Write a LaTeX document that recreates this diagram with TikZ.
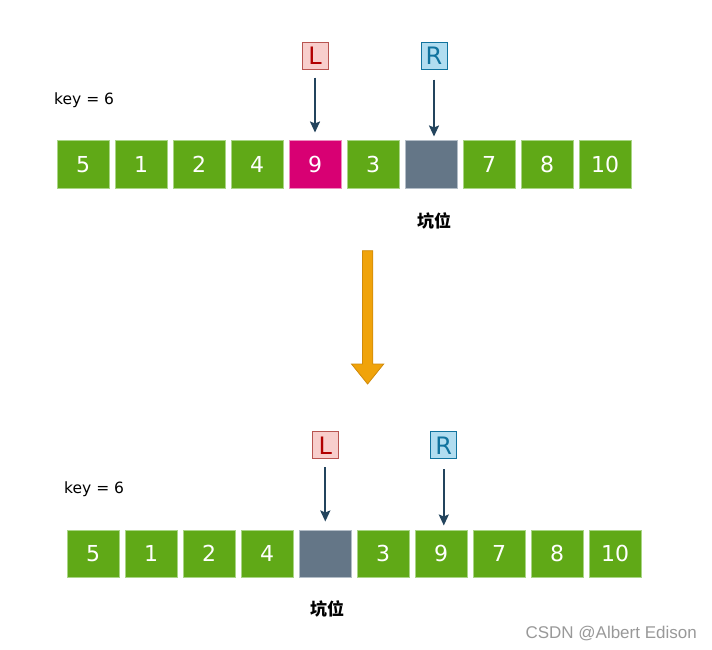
\documentclass[tikz,border=0pt]{standalone}
\usepackage{fontspec}
\setmainfont{DejaVu Sans}
\newfontfamily\cjkfont{Noto Sans CJK SC}
\newfontfamily\wmfont{Liberation Sans}
\usetikzlibrary{arrows.meta}
\definecolor{grfill}{HTML}{60A917}
\definecolor{grline}{HTML}{A9D585}
\definecolor{mgfill}{HTML}{D80073}
\definecolor{mgline}{HTML}{EE8DBF}
\definecolor{gyfill}{HTML}{647687}
\definecolor{gyline}{HTML}{B3BDC7}
\definecolor{lfill}{HTML}{F8CECC}
\definecolor{lline}{HTML}{B85450}
\definecolor{ltext}{HTML}{B20000}
\definecolor{rfill}{HTML}{B1DDF0}
\definecolor{rline}{HTML}{10739E}
\definecolor{ptrc}{HTML}{23445D}
\definecolor{orfill}{HTML}{F0A30A}
\definecolor{orline}{HTML}{D08A0A}
\tikzset{
  cell/.style={draw=grline, fill=grfill, line width=1pt, minimum width=52pt, minimum height=47pt, inner sep=0pt, text=white, font=\fontsize{22}{22}\selectfont},
  hotcell/.style={cell, draw=mgline, fill=mgfill},
  holecell/.style={cell, draw=gyline, fill=gyfill},
  lbox/.style={draw=lline, fill=lfill, line width=0.8pt, minimum width=26pt, minimum height=27pt, inner sep=0pt, text=ltext, font=\fontsize{24}{24}\selectfont},
  rbox/.style={lbox, draw=rline, fill=rfill, text=rline},
  ptr/.style={draw=ptrc, line width=2pt, -{Stealth[length=11pt,width=10pt,inset=2pt]}},
  keytxt/.style={inner sep=0pt, font=\fontsize{15.5}{15.5}\selectfont},
  hole/.style={inner sep=0pt, font=\cjkfont\bfseries\fontsize{17}{17}\selectfont},
}
\begin{document}
\begin{tikzpicture}[x=1pt,y=-1pt]
\useasboundingbox[fill=white] (0,0) rectangle (712,650);
% top row
\foreach \v/\s [count=\i from 0] in {5/cell,1/cell,2/cell,4/cell,9/hotcell,3/cell,{}/holecell,7/cell,8/cell,10/cell}
  \node[\s] (t\i) at (83+58*\i,164.5) {\v};
\node[lbox] (tL) at (315,55.7) {L};
\node[rbox] (tR) at (434,55.7) {R};
\draw[ptr, shorten <=8pt, shorten >=8pt] (tL.south) -- (tL.south |- t4.north);
\draw[ptr, shorten <=10pt, shorten >=4pt] (tR.south) -- (tR.south |- t6.north);
\node[keytxt, anchor=west] (tk) at (54,100.5) {key = 6};
\node[hole] (th) at (434,220.5) {坑位};
% transition arrow
\draw[fill=orfill, draw=orline, line width=0.8pt, line join=miter]
  (362.4,250.7) -- (372.8,250.7) -- (372.8,364) -- (383.7,364) -- (367.6,384)
  -- (351.5,364) -- (362.4,364) -- cycle;
% bottom row
\foreach \v/\s [count=\i from 0] in {5/cell,1/cell,2/cell,4/cell,{}/holecell,3/cell,9/cell,7/cell,8/cell,10/cell}
  \node[\s] (b\i) at (93+58*\i,553.5) {\v};
\node[lbox] (bL) at (325.3,445.3) {L};
\node[rbox] (bR) at (443.8,445.3) {R};
\draw[ptr, shorten <=8pt, shorten >=8pt] (bL.south) -- (bL.south |- b4.north);
\draw[ptr, shorten <=10pt, shorten >=4pt] (bR.south) -- (bR.south |- b6.north);
\node[keytxt, anchor=west] (bk) at (64,489.5) {key = 6};
\node[hole] (bh) at (327,608.5) {坑位};
% watermark
\node[inner sep=0pt, anchor=east, text=black!40, font=\wmfont\fontsize{17}{17}\selectfont] (wm) at (697,633.5) {CSDN @Albert Edison};
\end{tikzpicture}
\end{document}
